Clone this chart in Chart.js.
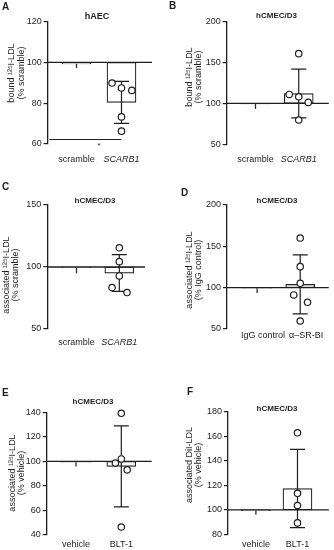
<!DOCTYPE html>
<html>
<head>
<meta charset="utf-8">
<script src="https://cdn.jsdelivr.net/npm/chart.js@4.4.1/dist/chart.umd.min.js"></script>
<style>
  body { margin: 0; background: #fff; }
  #wrap { position: relative; width: 334px; height: 550px; overflow: hidden; }
  canvas { position: absolute; }
</style>
</head>
<body>
<div id="wrap">
  <canvas id="pA" width="167" height="180" style="left:0;top:0"></canvas>
  <canvas id="pB" width="167" height="180" style="left:167px;top:0"></canvas>
  <canvas id="pC" width="167" height="185" style="left:0;top:180px"></canvas>
  <canvas id="pD" width="167" height="185" style="left:167px;top:180px"></canvas>
  <canvas id="pE" width="167" height="185" style="left:0;top:365px"></canvas>
  <canvas id="pF" width="167" height="185" style="left:167px;top:365px"></canvas>
</div>
<script>
const INK = '#1e1e1e';
const FONT = '"Liberation Sans", Arial, Helvetica, sans-serif';

// A - hAEC, bound 125I-LDL
const aLabels = ['scramble', 'SCARB1'];
const aMean = [99.3, 80.4];
const aSD = [2, 10.3];
const aPoints = [89.9, 87.5, 86.3, 73.3, 66.3];
const aJitter = [-0.21, 0, 0.23, 0, 0];
const aTicks = [60, 80, 100, 120];
// significance bar under the groups: x from / to, y level, mark
const aSig = [0.4, 2, 62.2, '*'];

// B - hCMEC/D3, bound 125I-LDL
const bLabels = ['scramble', 'SCARB1'];
const bMean = [99.4, 112];
const bSD = [6, 29.7];
const bPoints = [110.9, 108, 101.2, 160.5, 79.8];
const bJitter = [-0.22, 0, 0.22, 0, 0];
const bTicks = [50, 100, 150, 200];

// C - hCMEC/D3, associated 125I-LDL
const cLabels = ['scramble', 'SCARB1'];
const cMean = [99.4, 95.1];
const cSD = [4.5, 14.8];
const cPoints = [115.5, 104.3, 92.8, 83.4, 79.4];
const cJitter = [0, 0, 0, -0.17, 0.18];
const cTicks = [50, 100, 150];

// D - hCMEC/D3, antibody block
const dLabels = ['IgG control', 'α–SR-BI'];
const dMean = [99.4, 104];
const dSD = [6, 35.7];
const dPoints = [160, 125.4, 105.3, 91.2, 82.3, 59.7];
const dJitter = [0, 0, 0, -0.15, 0.17, 0];
const dTicks = [50, 100, 150, 200];

// E - hCMEC/D3, BLT-1, 125I-LDL
const eLabels = ['vehicle', 'BLT-1'];
const eMean = [99.3, 95.9];
const eSD = [3.5, 33];
const ePoints = [139.2, 102, 98.7, 93.1, 46.5];
const eJitter = [0, 0, -0.13, 0.13, 0];
const eTicks = [40, 60, 80, 100, 120, 140];

// F - hCMEC/D3, BLT-1, DiI-LDL
const fLabels = ['vehicle', 'BLT-1'];
const fMean = [99.3, 117.3];
const fSD = [3.3, 31.9];
const fPoints = [162.8, 113.4, 103.5, 89.3];
const fJitter = [0, 0, 0, 0];
const fTicks = [80, 100, 120, 140, 160, 180];

// baseline at 100 %, error bars, panel texts
const deco = {
  id: 'deco',
  afterDatasetDraw(chart, args, o) {
    if (args.index !== 1) return;
    const ctx = chart.ctx, x = chart.scales.x, y = chart.scales.y, area = chart.chartArea;
    ctx.save();
    ctx.strokeStyle = INK;
    ctx.lineWidth = 1.3;
    ctx.beginPath();
    ctx.moveTo(area.left, y.getPixelForValue(100));
    ctx.lineTo(area.right, y.getPixelForValue(100));
    ctx.stroke();
    ctx.lineWidth = 1.2;
    o.mean.forEach((m, i) => {
      const px = x.getPixelForValue(i + 1);
      const lo = y.getPixelForValue(m - o.sd[i]);
      const hi = i === 0 ? y.getPixelForValue(m) : y.getPixelForValue(m + o.sd[i]);
      ctx.beginPath();
      ctx.moveTo(px, lo);
      ctx.lineTo(px, hi);
      if (i > 0) {
        ctx.moveTo(px - o.cap, lo); ctx.lineTo(px + o.cap, lo);
        ctx.moveTo(px - o.cap, hi); ctx.lineTo(px + o.cap, hi);
      }
      ctx.stroke();
    });
    if (o.sig) {
      const sy = y.getPixelForValue(o.sig[2]);
      ctx.lineWidth = 1;
      ctx.beginPath();
      ctx.moveTo(x.getPixelForValue(o.sig[0]), sy);
      ctx.lineTo(x.getPixelForValue(o.sig[1]), sy);
      ctx.stroke();
      ctx.fillStyle = INK;
      ctx.font = '8px ' + FONT;
      ctx.textAlign = 'center';
      ctx.textBaseline = 'top';
      ctx.fillText(o.sig[3], x.getPixelForValue(1.5), sy + 2);
    }
    ctx.restore();
  },
  afterDraw(chart, args, o) {
    const ctx = chart.ctx;
    ctx.save();
    ctx.fillStyle = INK;
    ctx.textBaseline = 'middle';
    ctx.textAlign = 'left';
    ctx.font = 'bold 10px ' + FONT;
    ctx.fillText(o.letter, o.lx, o.ly);
    ctx.textAlign = 'center';
    ctx.font = 'bold ' + o.titleSize + 'px ' + FONT;
    ctx.fillText(o.title, o.tx, o.ty);
    ctx.font = '9px ' + FONT;
    o.yTitle.forEach((t, i) => {
      ctx.save();
      ctx.translate(o.yx[i], o.yy);
      ctx.rotate(-Math.PI / 2);
      ctx.fillText(t, 0, 0);
      ctx.restore();
    });
    ctx.restore();
  }
};

function panel(id, d, L) {
  const cv = document.getElementById(id);
  const W = cv.width, H = cv.height;
  new Chart(cv, {
    type: 'bar',
    data: {
      datasets: [{
        type: 'scatter',
        order: 0,
        clip: false,
        data: d.points.map((v, i) => ({ x: 2 + d.jitter[i], y: v })),
        pointRadius: 3.2,
        pointBackgroundColor: '#fff',
        pointBorderColor: INK,
        pointBorderWidth: 1.2
      }, {
        order: 1,
        data: d.mean.map((m, i) => ({ x: i + 1, y: [100, m] })),
        backgroundColor: '#fff',
        borderColor: INK,
        borderWidth: 1.2,
        borderSkipped: false,
        barThickness: 29
      }]
    },
    options: {
      responsive: false,
      animation: false,
      events: [],
      layout: { padding: { left: 0, top: L.top, right: W - L.right, bottom: 0 } },
      plugins: {
        legend: { display: false },
        tooltip: { enabled: false },
        deco: {
          mean: d.mean, sd: d.sd, cap: 7.5, sig: d.sig,
          letter: d.letter, lx: L.lx, ly: L.ly,
          title: d.title, tx: L.tx, ty: L.ty, titleSize: L.titleSize,
          yTitle: d.yTitle, yx: L.yx, yy: L.yy
        }
      },
      scales: {
        x: {
          type: 'linear',
          min: L.xmin, max: L.xmax,
          offset: false,
          grid: { display: false, drawTicks: false },
          border: { display: false },
          afterBuildTicks: s => { s.ticks = [{ value: 1 }, { value: 2 }]; },
          afterFit: s => { s.height = H - L.bottom; s.paddingLeft = 0; s.paddingRight = 0; },
          ticks: {
            callback: v => d.labels[v - 1],
            color: INK,
            font: c => ({ family: FONT, size: 9, style: d.italic && c.index === 1 ? 'italic' : 'normal' }),
            padding: L.xpad,
            labelOffset: L.lo || 0,
            maxRotation: 0,
            autoSkip: false
          }
        },
        y: {
          min: d.ticks[0],
          max: d.ticks[d.ticks.length - 1],
          afterBuildTicks: s => { s.ticks = d.ticks.map(v => ({ value: v })); },
          afterFit: s => { s.width = L.left; s.paddingTop = 0; s.paddingBottom = 0; },
          grid: { drawOnChartArea: false, drawTicks: true, tickLength: 4, color: INK, lineWidth: 1.2 },
          border: { display: true, color: INK, width: 1.3 },
          ticks: { color: INK, font: { family: FONT, size: 9 }, padding: 2 }
        }
      }
    },
    plugins: [deco]
  });
}

panel('pA',
  { labels: aLabels, mean: aMean, sd: aSD, points: aPoints, jitter: aJitter, ticks: aTicks, sig: aSig, italic: true,
    letter: 'A', title: 'hAEC', yTitle: ['bound ¹²⁵I-LDL', '(% scramble)'] },
  { left: 47.7, top: 21.7, bottom: 144, right: 152, xmin: 0.36, xmax: 2.678, xpad: 10,
    lx: 2, ly: 7, tx: 97, ty: 16.7, titleSize: 9, yx: [12, 21.5], yy: 73 });

panel('pB',
  { labels: bLabels, mean: bMean, sd: bSD, points: bPoints, jitter: bJitter, ticks: bTicks, italic: true,
    letter: 'B', title: 'hCMEC/D3', yTitle: ['bound ¹²⁵I-LDL', '(% scramble)'] },
  { left: 59.7, top: 21.2, bottom: 144.5, right: 166, xmin: 0.333, xmax: 2.696, xpad: 10,
    lx: 2, ly: 6.5, tx: 109.5, ty: 16, titleSize: 8, yx: [23, 32], yy: 77 });

panel('pC',
  { labels: cLabels, mean: cMean, sd: cSD, points: cPoints, jitter: cJitter, ticks: cTicks, italic: true,
    letter: 'C', title: 'hCMEC/D3', yTitle: ['associated ¹²⁵I-LDL', '(% scramble)'] },
  { left: 47.3, top: 25, bottom: 149, right: 145, xmin: 0.318, xmax: 2.6, xpad: 8,
    lx: 2, ly: 7.5, tx: 95, ty: 20.7, titleSize: 8, yx: [6.5, 16], yy: 95 });

panel('pD',
  { labels: dLabels, mean: dMean, sd: dSD, points: dPoints, jitter: dJitter, ticks: dTicks,
    letter: 'D', title: 'hCMEC/D3', yTitle: ['associated ¹²⁵I-LDL', '(% IgG control)'] },
  { left: 60, top: 25, bottom: 149, right: 165, xmin: 0.303, xmax: 2.663, xpad: 1.5, lo: 6,
    lx: 14, ly: 13, tx: 110, ty: 20.7, titleSize: 8, yx: [22.5, 32], yy: 90 });

panel('pE',
  { labels: eLabels, mean: eMean, sd: eSD, points: ePoints, jitter: eJitter, ticks: eTicks,
    letter: 'E', title: 'hCMEC/D3', yTitle: ['associated ¹²⁵I-LDL', '(% vehicle)'] },
  { left: 46.7, top: 47.3, bottom: 170, right: 151.7, xmin: 0.353, xmax: 2.671, xpad: 4,
    lx: 2, ly: 28, tx: 93, ty: 36.7, titleSize: 8, yx: [12.5, 21.5], yy: 108 });

panel('pF',
  { labels: fLabels, mean: fMean, sd: fSD, points: fPoints, jitter: fJitter, ticks: fTicks,
    letter: 'F', title: 'hCMEC/D3', yTitle: ['associated DiI-LDL', '(% vehicle)'] },
  { left: 61, top: 46.7, bottom: 169.3, right: 164, xmin: 0.329, xmax: 2.753, xpad: 5,
    lx: 20, ly: 27, tx: 110, ty: 43.3, titleSize: 8, yx: [22.5, 32], yy: 100 });
</script>
</body>
</html>
